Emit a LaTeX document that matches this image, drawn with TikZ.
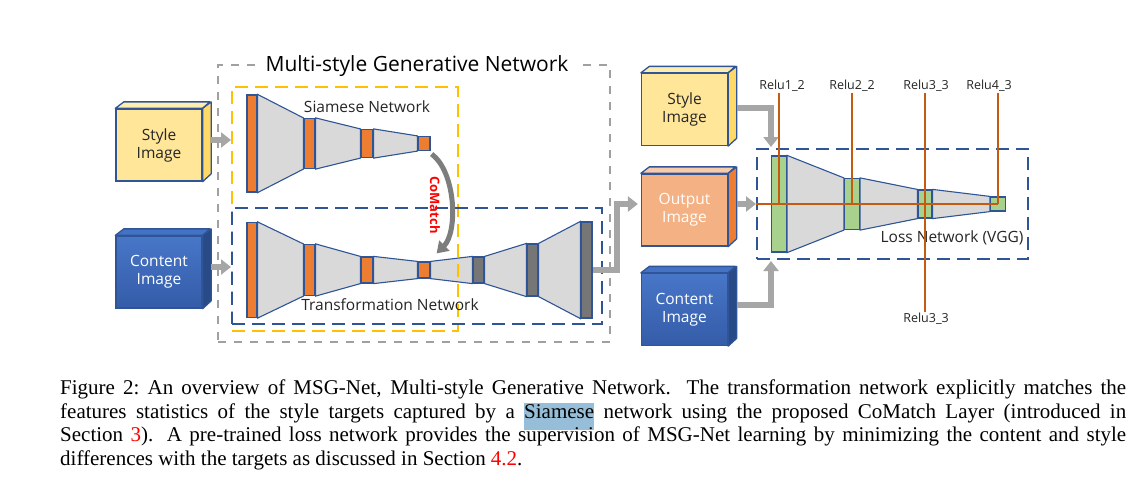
\documentclass[tikz,border=0pt]{standalone}
\usepackage{fontspec}
\newfontfamily\diagfont{Open Sans}
\newfontfamily\capfont{Liberation Serif}
\usepackage{xcolor}
\definecolor{colEdge}{RGB}{47,85,151}
\definecolor{colConv}{RGB}{237,125,49}
\definecolor{colDeconv}{RGB}{118,118,118}
\definecolor{colVgg}{RGB}{169,209,142}
\definecolor{colTrap}{RGB}{217,217,217}
\definecolor{colArrow}{RGB}{166,166,166}
\definecolor{colMatch}{RGB}{125,125,125}
\definecolor{colRelu}{RGB}{197,90,17}
\definecolor{colFrame}{RGB}{160,160,160}
\definecolor{colSiam}{RGB}{255,192,0}
\definecolor{colStyle}{RGB}{255,230,153}
\definecolor{colStyleSide}{RGB}{255,217,102}
\definecolor{colStyleTop}{RGB}{255,236,175}
\definecolor{colContA}{RGB}{72,118,200}
\definecolor{colContB}{RGB}{52,92,168}
\definecolor{colContSide}{RGB}{40,74,134}
\definecolor{colContTop}{RGB}{68,114,196}
\definecolor{colOut}{RGB}{244,177,131}
\definecolor{colOutSide}{RGB}{237,125,49}
\definecolor{colOutTop}{RGB}{248,203,173}
\definecolor{colHilite}{RGB}{150,190,216}
\definecolor{colText}{RGB}{38,38,38}
\usetikzlibrary{arrows.meta, positioning, calc, backgrounds}
\tikzset{
	layer/.style={draw=colEdge, line width=1.2pt, inner sep=0pt, fill=#1},
	trap/.style={fill=colTrap, draw=colEdge, line width=1.1pt},
	imgbox/.style={draw=colEdge, line width=1.3pt, minimum width=86pt, minimum height=72pt, align=center, font=\diagfont\fontsize{15.5}{18}\selectfont, inner sep=0pt},
	facebox/.style={draw=colEdge, line width=1.3pt, line join=round, fill=#1},
	fatarrow/.style={draw=colArrow, line width=6pt, -{Triangle[width=15pt,length=10pt]}},
	matcharrow/.style={draw=colMatch, line width=5pt, -{Triangle[width=14pt,length=11pt]}},
	dashbox/.style={draw=#1, line width=2pt, dash pattern=on 13pt off 7pt, inner sep=0pt},
	netlabel/.style={font=\diagfont\fontsize{15.5}{18}\selectfont, text=colText, inner sep=1pt},
	relulabel/.style={font=\diagfont\fontsize{12.5}{14}\selectfont, text=colText, inner sep=1pt},
	reluline/.style={draw=colRelu, line width=1.4pt},
	caption/.style={anchor=north west, inner sep=0pt, text width=1066pt, align=justify, font=\capfont\fontsize{21}{23.5}\selectfont},
}

\begin{document}
\begin{tikzpicture}[x=1pt, y=-1pt, >=Stealth]
	\begin{pgfonlayer}{background}
		\fill[white] (0,0) rectangle (1142,483);
	\end{pgfonlayer}
	\useasboundingbox (0,0) rectangle (1142,483);

	% dashed frames
	\node[dashbox=colFrame, line width=1.5pt, dash pattern=on 8pt off 8pt, minimum width=392, minimum height=277] (msg) at (414,203.5) {};
	\node[dashbox=colSiam, minimum width=226, minimum height=244] (siamese) at (345,209) {};
	\node[dashbox=colEdge, minimum width=370, minimum height=116] (transform) at (417,266) {};
	\node[dashbox=colEdge, minimum width=271, minimum height=110] (loss) at (892.5,204) {};
	\node[fill=white, inner xsep=8pt, inner ysep=0pt, font=\diagfont\fontsize{21}{24}\selectfont, text=black] (title) at ($(msg.north)+(3,2)$) {Multi-style Generative Network};

	% input and output images
	\node[imgbox, fill=colStyle, text=colText] (style) at (159,145) {Style\\Image};
	\node[imgbox, top color=colContA, bottom color=colContB, text=white] (content) at (159,272) {Content\\Image};
	\node[imgbox, fill=colStyle, text=colText] (style2) at (684.5,109.5) {Style\\Image};
	\node[imgbox, fill=colOut, text=white] (output) at (684.5,210) {Output\\Image};
	\node[imgbox, top color=colContA, bottom color=colContB, text=white] (content2) at (684.5,309.5) {Content\\Image};
	\foreach \b/\s/\t in {style/colStyleSide/colStyleTop, content/colContSide/colContTop, style2/colStyleSide/colStyleTop, output/colOutSide/colOutTop, content2/colContSide/colContTop} {
		\filldraw[facebox=\t] (\b.north west) -- ++(8.5,-6.5) -- ++(86,0) -- (\b.north east) -- cycle;
		\filldraw[facebox=\s] (\b.north east) -- ++(8.5,-6.5) -- ++(0,72) -- (\b.south east) -- cycle;
	}

	% siamese network
	\foreach \n/\x/\w/\h in {1/252/10/97, 2/309.5/11/50, 3/367/12/28, 4/424/12/14}
		\node[layer=colConv, minimum width=\w, minimum height=\h] (s\n) at (\x,143.5) {};
	% transformation network
	\foreach \n/\x/\w/\h/\c in {1/252/10/95/colConv, 2/309.5/11/51/colConv, 3/367/12/26/colConv, 4/424/12/16/colConv, 5/478.5/11/26/colDeconv, 6/532.5/11/52/colDeconv, 7/586.5/11/96/colDeconv}
		\node[layer=\c, minimum width=\w, minimum height=\h] (t\n) at (\x,270) {};
	% loss network
	\foreach \n/\x/\w/\h in {1/779/15/96, 2/852/15/51, 3/925/14/28, 4/998/15/14}
		\node[layer=colVgg, minimum width=\w, minimum height=\h] (v\n) at (\x,204) {};

	\begin{pgfonlayer}{background}
		\foreach \a/\b in {s1/s2, s2/s3, s3/s4, t1/t2, t2/t3, t3/t4, t4/t5, t5/t6, t6/t7, v1/v2, v2/v3, v3/v4}
			\filldraw[trap] (\a.north east) -- (\b.north west) -- (\b.south west) -- (\a.south east) -- cycle;
	\end{pgfonlayer}

	\node[netlabel] (siamlabel) at (367,107) {Siamese Network};
	\node[netlabel] (translabel) at (390,305) {Transformation Network};
	\node[netlabel] (losslabel) at (952,238) {Loss Network (VGG)};

	% CoMatch
	\draw[matcharrow] ($(s4.south east)+(1,3)$) .. controls (456,172) and (458,232) .. ($(t4.north east)+(6,-8)$);
	\node[rotate=-90, font=\diagfont\bfseries\fontsize{13}{15}\selectfont, text=red, inner sep=0pt] (cmlabel) at (435,205) {CoMatch};

	% grey arrows
	\coordinate (styleout) at ($(style.east)+(8.5,-5)$);
	\coordinate (contentout) at ($(content.east)+(8.5,-5)$);
	\coordinate (style2out) at ($(style2.east)+(8.5,-2)$);
	\coordinate (outputout) at ($(output.east)+(8.5,-6)$);
	\coordinate (content2out) at ($(content2.east)+(8.5,-5)$);
	\draw[fatarrow] (styleout) -- (styleout -| siamese.west);
	\draw[fatarrow] (contentout) -- (contentout -| transform.west);
	\draw[fatarrow, shorten >=3pt] (t7.east) -- ++(24,0) |- ($(output.west)+(0,-6)$);
	\draw[fatarrow] (style2out) -| ($(loss.north west)+(15,-1)$);
	\draw[fatarrow] (outputout) -- (outputout -| loss.west);
	\draw[fatarrow] (content2out) -| ($(loss.south west)+(15,1)$);

	% relu taps
	\node[relulabel] (r1) at (782,86) {Relu1\_2};
	\node[relulabel] (r2) at (852,86) {Relu2\_2};
	\node[relulabel] (r3) at (926,86) {Relu3\_3};
	\node[relulabel] (r4) at (989,86) {Relu4\_3};
	\node[relulabel] (r3b) at (926,319) {Relu3\_3};
	\draw[reluline] (loss.west) -- (v4.center);
	\foreach \n in {1,2,4}
		\draw[reluline] (v\n.center |- r\n.south) -- (v\n.center);
	\draw[reluline] (v3.center |- r3.south) -- (v3.center |- r3b.north);

	% caption
	\node[caption] (caption) at (60,380) {\tolerance=10000\hyphenpenalty=10000
		Figure 2:~An overview of MSG-Net, Multi-style Generative Network.  The transformation network explicitly matches the\linebreak
		features statistics of the style targets captured by a \rlap{\smash{\setlength{\fboxsep}{0pt}\colorbox{colHilite}{\rule[-11.5pt]{0pt}{27pt}\phantom{Siamese}}}}Siamese network using the proposed CoMatch Layer (introduced in\linebreak
		Section \textcolor{red}{3}).  A pre-trained loss network provides the supervision of MSG-Net learning by minimizing the content and style\linebreak
		differences with the targets as discussed in Section \textcolor{red}{4.2}.};
\end{tikzpicture}
\end{document}
